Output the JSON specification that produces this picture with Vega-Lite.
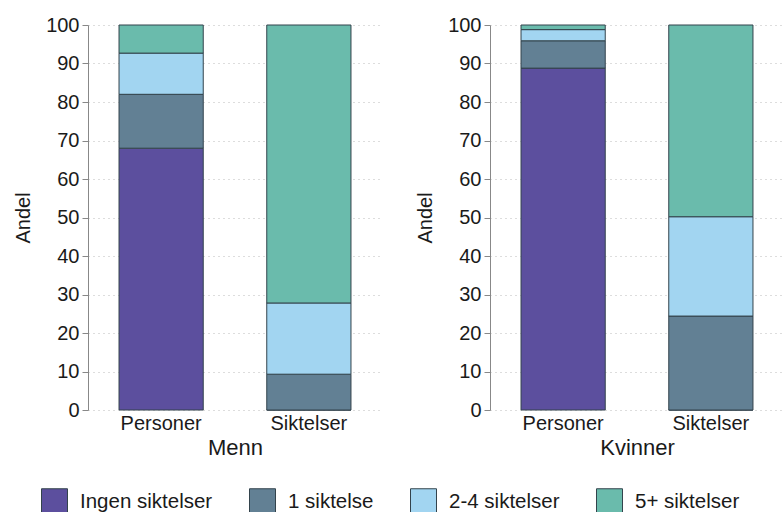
{
  "$schema": "https://vega.github.io/schema/vega-lite/v6.json",
  "padding": {"left": 13, "top": 15, "right": 0, "bottom": 0},
  "background": "white",
  "config": {
    "font": "Liberation Sans",
    "view": {"stroke": null},
    "concat": {"spacing": 33},
    "axis": {"labelFont": "Liberation Sans", "titleFont": "Liberation Sans", "labelColor": "#1a1a1a", "titleColor": "#1a1a1a", "titleFontWeight": "normal"}
  },
  "data": {"values": [
    {"kjonn": "Menn", "type": "Personer", "kat": "Ingen siktelser", "ord": 1, "andel": 68.0},
    {"kjonn": "Menn", "type": "Personer", "kat": "1 siktelse", "ord": 2, "andel": 14.0},
    {"kjonn": "Menn", "type": "Personer", "kat": "2-4 siktelser", "ord": 3, "andel": 10.7},
    {"kjonn": "Menn", "type": "Personer", "kat": "5+ siktelser", "ord": 4, "andel": 7.3},
    {"kjonn": "Menn", "type": "Siktelser", "kat": "Ingen siktelser", "ord": 1, "andel": 0},
    {"kjonn": "Menn", "type": "Siktelser", "kat": "1 siktelse", "ord": 2, "andel": 9.3},
    {"kjonn": "Menn", "type": "Siktelser", "kat": "2-4 siktelser", "ord": 3, "andel": 18.5},
    {"kjonn": "Menn", "type": "Siktelser", "kat": "5+ siktelser", "ord": 4, "andel": 72.2},
    {"kjonn": "Kvinner", "type": "Personer", "kat": "Ingen siktelser", "ord": 1, "andel": 88.8},
    {"kjonn": "Kvinner", "type": "Personer", "kat": "1 siktelse", "ord": 2, "andel": 7.1},
    {"kjonn": "Kvinner", "type": "Personer", "kat": "2-4 siktelser", "ord": 3, "andel": 2.9},
    {"kjonn": "Kvinner", "type": "Personer", "kat": "5+ siktelser", "ord": 4, "andel": 1.2},
    {"kjonn": "Kvinner", "type": "Siktelser", "kat": "Ingen siktelser", "ord": 1, "andel": 0},
    {"kjonn": "Kvinner", "type": "Siktelser", "kat": "1 siktelse", "ord": 2, "andel": 24.4},
    {"kjonn": "Kvinner", "type": "Siktelser", "kat": "2-4 siktelser", "ord": 3, "andel": 25.8},
    {"kjonn": "Kvinner", "type": "Siktelser", "kat": "5+ siktelser", "ord": 4, "andel": 49.8}
  ]},
  "hconcat": [
    {
      "transform": [{"filter": "datum.kjonn === 'Menn'"}],
      "width": 294,
      "height": 385,
      "mark": {"type": "bar", "stroke": "#33434c", "strokeWidth": 1},
      "encoding": {
        "x": {"field": "type", "type": "nominal", "title": "Menn",
          "scale": {"paddingInner": 0.43, "paddingOuter": 0.21},
          "axis": {"labelAngle": 0, "labelFontSize": 20, "titleFontSize": 22, "domain": false, "ticks": false, "labelPadding": 3, "titlePadding": 4}},
        "y": {"field": "andel", "type": "quantitative", "stack": "zero", "title": "Andel",
          "scale": {"domain": [0, 100], "nice": false},
          "axis": {"values": [0,10,20,30,40,50,60,70,80,90,100], "labelFontSize": 20, "titleFontSize": 20, "domainColor": "#888888", "tickColor": "#888888", "tickSize": 6, "labelPadding": 3, "titlePadding": 12, "gridDash": [1,4], "gridColor": "#bbbbbb", "gridWidth": 1}},
        "color": {"field": "kat", "type": "nominal", "sort": ["Ingen siktelser", "1 siktelse", "2-4 siktelser", "5+ siktelser"],
          "scale": {"domain": ["Ingen siktelser", "1 siktelse", "2-4 siktelser", "5+ siktelser"], "range": ["#5c4f9e", "#628094", "#a2d5f1", "#6abbac"]},
          "legend": {"title": null, "orient": "none", "legendX": -47, "legendY": 463, "direction": "horizontal", "symbolType": "square", "symbolSize": 676, "symbolStrokeColor": "#33434c", "symbolStrokeWidth": 1, "labelFontSize": 20.5, "labelColor": "#1a1a1a", "columnPadding": 34, "symbolOffset": 0, "labelOffset": 12}},
        "order": {"field": "ord", "type": "quantitative"}
      }
    },
    {
      "transform": [{"filter": "datum.kjonn === 'Kvinner'"}],
      "width": 294,
      "height": 385,
      "mark": {"type": "bar", "stroke": "#33434c", "strokeWidth": 1},
      "encoding": {
        "x": {"field": "type", "type": "nominal", "title": "Kvinner",
          "scale": {"paddingInner": 0.43, "paddingOuter": 0.21},
          "axis": {"labelAngle": 0, "labelFontSize": 20, "titleFontSize": 22, "domain": false, "ticks": false, "labelPadding": 3, "titlePadding": 4}},
        "y": {"field": "andel", "type": "quantitative", "stack": "zero", "title": "Andel",
          "scale": {"domain": [0, 100], "nice": false},
          "axis": {"values": [0,10,20,30,40,50,60,70,80,90,100], "labelFontSize": 20, "titleFontSize": 20, "domainColor": "#888888", "tickColor": "#888888", "tickSize": 6, "labelPadding": 3, "titlePadding": 12, "gridDash": [1,4], "gridColor": "#bbbbbb", "gridWidth": 1}},
        "color": {"field": "kat", "type": "nominal", "sort": ["Ingen siktelser", "1 siktelse", "2-4 siktelser", "5+ siktelser"],
          "scale": {"domain": ["Ingen siktelser", "1 siktelse", "2-4 siktelser", "5+ siktelser"], "range": ["#5c4f9e", "#628094", "#a2d5f1", "#6abbac"]},
          "legend": null},
        "order": {"field": "ord", "type": "quantitative"}
      }
    }
  ]
}
